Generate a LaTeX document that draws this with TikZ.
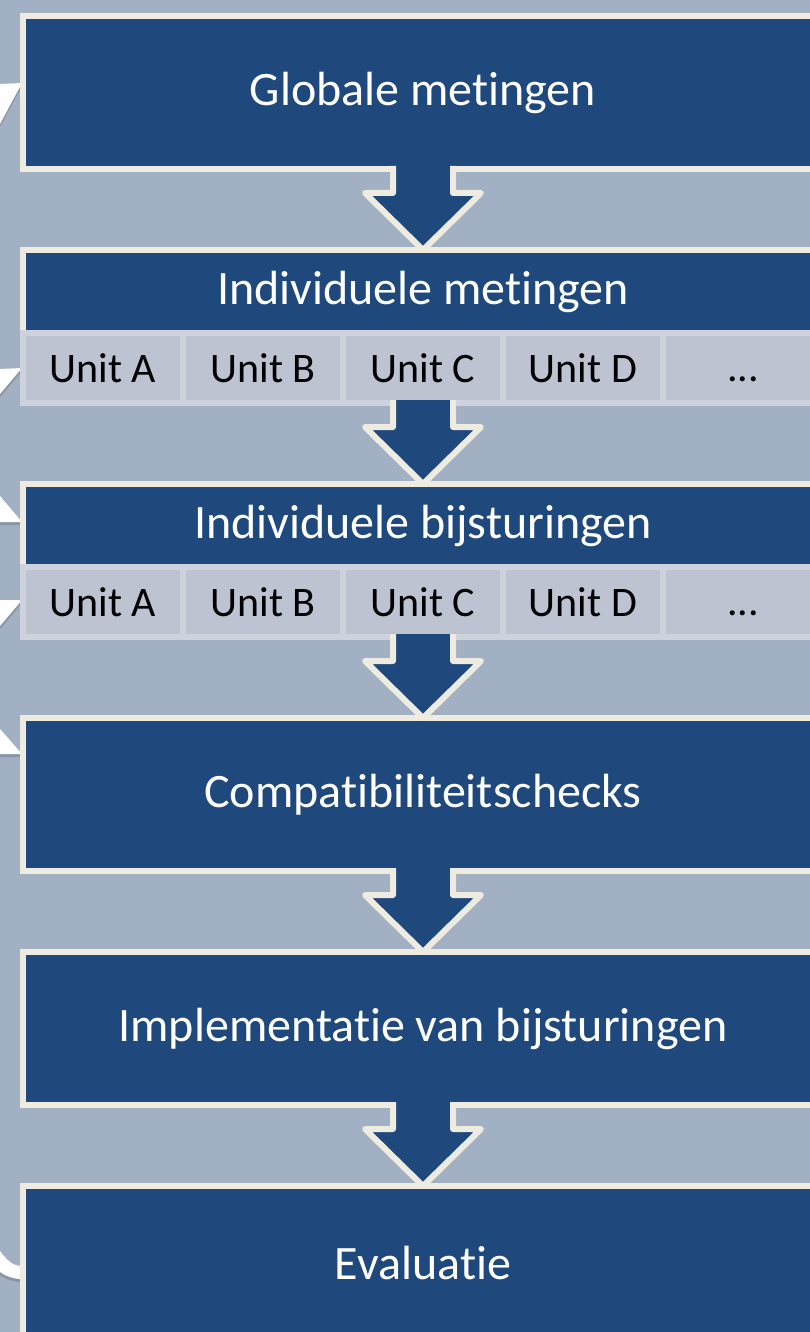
\documentclass[tikz,border=0pt]{standalone}
\usepackage{fontspec}
\setmainfont[Ligatures=NoCommon]{Carlito}
\usetikzlibrary{positioning,calc}
\definecolor{slidebg}{HTML}{A2B0C3}
\definecolor{navy}{HTML}{1F497D}
\definecolor{cream}{HTML}{EEECE1}
\definecolor{cellgray}{HTML}{BDC3D0}
\definecolor{cellline}{HTML}{CED2DC}

\tikzset{
  stagebox/.style={draw=cream, fill=navy, line width=6pt, minimum width=800pt,
    minimum height=153pt, inner sep=0pt, outer sep=0pt, text=white,
    font=\fontsize{48}{56}\selectfont},
  stagetitle/.style={stagebox, minimum height=83pt},
  unitcell/.style={draw=cellline, fill=cellgray, line width=6pt, minimum width=160pt,
    minimum height=70pt, inner sep=0pt, outer sep=0pt, text=black,
    font=\fontsize{42}{50}\selectfont},
  flowarrow/.style={draw=cream, fill=navy, line width=6pt, line join=round},
  loopend/.style={fill=white},
  loopshadow/.style={fill=black, opacity=.15}
}

% three dots on the baseline, kept apart from the \foreach range syntax
\newcommand{\moredots}{\vphantom{U}.\kern0pt.\kern0pt.}

% block arrow from the bottom of #1 to the top of #2
\newcommand{\flowdown}[2]{%
  \filldraw[flowarrow] ($(#1.south)+(-30,-3)$) -- ++(0,27) -- ++(-28,0) -- (#2.north)
    -- ($(#1.south)+(58,24)$) -- ++(-28,0) -- ++(0,-27);
}

\begin{document}
\begin{tikzpicture}[x=1pt,y=-1pt]
\useasboundingbox (0,0) rectangle (810,1332);
\clip (0,0) rectangle (810,1332);
\fill[slidebg] (0,0) rectangle (810,1332);

% ends of the loop arrows on the left edge
\foreach \lay/\dy in {loopshadow/3, loopend/0} {
  \begin{scope}[shift={(0,\dy)}, \lay]
    \fill (0,84) -- (22,83) -- (0,124) -- cycle;
    \fill (0,369) -- (22,368) -- (0,394) -- cycle;
    \fill (0,496) -- (22,522) -- (0,522) -- cycle;
    \fill (0,600) -- (22,600) -- (0,626) -- cycle;
    \fill (0,729) -- (22,754) -- (0,754) -- cycle;
    \fill (0,1251) .. controls (8,1262) and (14,1266) .. (22,1266) -- (22,1279)
      .. controls (12,1279) and (4,1275) .. (0,1272) -- cycle;
  \end{scope}
}

\node[stagebox] (glob) at (423,92.5) {Globale metingen};

\node[stagetitle, below=81pt of glob] (indm) {Individuele metingen};
\node[unitcell, anchor=north west] (m1) at (indm.south west) {Unit A};
\foreach \t [count=\i from 2, evaluate=\i as \j using int(\i-1)] in {Unit B, Unit C, Unit D, \moredots}
  \node[unitcell, right=0pt of m\j] (m\i) {\t};

\node[stagetitle, below=81pt of m3] (indb) {Individuele bijsturingen};
\node[unitcell, anchor=north west] (b1) at (indb.south west) {Unit A};
\foreach \t [count=\i from 2, evaluate=\i as \j using int(\i-1)] in {Unit B, Unit C, Unit D, \moredots}
  \node[unitcell, right=0pt of b\j] (b\i) {\t};

\node[stagebox, below=81pt of b3] (comp) {Compatibiliteitschecks};
\node[stagebox, below=81pt of comp] (impl) {Implementatie van bijsturingen};
\node[stagebox, below=81pt of impl] (eval) {Evaluatie};

\flowdown{glob}{indm}
\flowdown{m3}{indb}
\flowdown{b3}{comp}
\flowdown{comp}{impl}
\flowdown{impl}{eval}
\end{tikzpicture}
\end{document}
